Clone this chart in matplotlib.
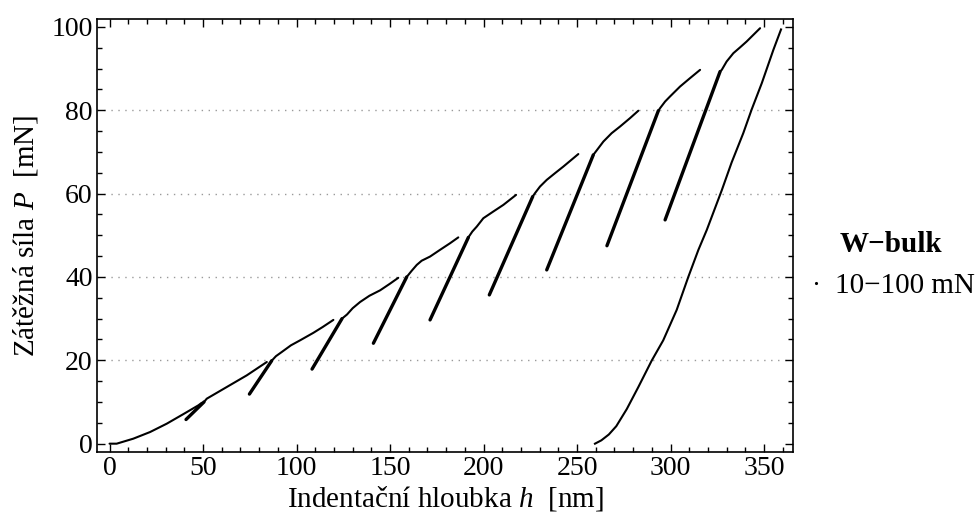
import matplotlib
matplotlib.use("Agg")
import matplotlib.pyplot as plt
from matplotlib.lines import Line2D
from matplotlib.ticker import MultipleLocator

# loading branches (h in nm, P in mN), one list per cycle
load_h = [
    [0, 3.8, 12.7, 21.7, 30.6, 39.5, 47.5, 49.3],
    [50.5, 52.0, 62.7, 73.4, 84.1],
    [86.7, 89.0, 92.1, 97.0, 101.9, 109.0, 114.0, 119.7],
    [124.3, 127.0, 130.0, 134.0, 139.0, 144.7, 150.0, 154.4],
    [158.9, 161.6, 164.3, 166.9, 171.4, 176.7, 182.1, 186.5],
    [191.9, 194.0, 196.4, 199.9, 205.2, 210.6, 217.4],
    [226.3, 227.5, 230.2, 233.8, 238.2, 242.7, 250.7],
    [258.7, 261.4, 264.1, 268.5, 273.0, 278.3, 282.8],
    [293.5, 294.4, 297.1, 299.7, 305.1, 310.4, 315.8],
    [326.5, 327.4, 330.0, 333.6, 337.2, 340.7, 344.3, 347.9],
]
load_P = [
    [0, 0, 1.2, 2.8, 4.8, 7.1, 9.2, 9.8],
    [10.0, 10.8, 13.6, 16.4, 19.6],
    [19.9, 21.0, 22.0, 23.6, 24.8, 26.6, 28.0, 29.7],
    [30.0, 31.0, 32.5, 34.0, 35.5, 36.8, 38.4, 39.8],
    [40.0, 41.5, 42.9, 43.9, 44.9, 46.5, 48.1, 49.5],
    [49.5, 50.9, 52.1, 54.1, 55.7, 57.3, 59.7],
    [59.3, 60.1, 61.7, 63.3, 64.9, 66.5, 69.5],
    [69.3, 70.9, 72.5, 74.5, 76.1, 78.1, 79.9],
    [79.9, 80.5, 82.1, 83.3, 85.7, 87.7, 89.7],
    [89.3, 89.7, 91.7, 93.7, 95.1, 96.5, 98.1, 99.7],
]

# partial unload / reload lines (top -> lowest point)
cyc_top_h = [50.5, 86.7, 124.3, 158.9, 191.9, 226.3, 258.7, 293.5, 326.5]
cyc_top_P = [10.0, 19.9, 30.0, 40.0, 49.5, 59.3, 69.3, 79.9, 89.3]
cyc_low_h = [40.9, 74.8, 108.3, 141.1, 171.4, 203.1, 233.8, 266.0, 297.1]
cyc_low_P = [5.8, 11.9, 17.9, 24.1, 29.7, 35.7, 41.7, 47.5, 53.7]

# final unloading from 100 mN
fin_h = [359.1, 355.0, 348.8, 343.4, 338.9, 332.7, 327.4, 319.4, 314.9,
         309.5, 303.3, 296.1, 289.9, 282.8, 276.6, 271.0, 267.0, 263.0, 259.6]
fin_P = [99.4, 94.5, 86.5, 80.2, 74.5, 67.5, 60.8, 51.3, 46.5,
         40.0, 32.1, 24.8, 19.9, 13.6, 8.3, 4.2, 2.2, 0.8, 0.0]

plt.rcParams["font.family"] = ["Liberation Serif", "DejaVu Serif"]
plt.rcParams["mathtext.fontset"] = "custom"
plt.rcParams["mathtext.rm"] = "Liberation Serif"
plt.rcParams["mathtext.it"] = "Liberation Serif:italic"

fig = plt.figure(figsize=(9.76, 5.17), dpi=100)
ax = fig.add_axes([0.0994, 0.1257, 0.7131, 0.8375])

for hh, pp in zip(load_h, load_P):
    ax.plot(hh, pp, color="black", lw=1.5, solid_capstyle="round",
            solid_joinstyle="round")
for i in range(len(cyc_top_h)):
    ax.plot([cyc_top_h[i], cyc_low_h[i]], [cyc_top_P[i], cyc_low_P[i]],
            color="black", lw=2.4, solid_capstyle="round")
ax.plot(fin_h, fin_P, color="black", lw=1.5, solid_joinstyle="round")

for y in [20, 40, 60, 80]:
    ax.axhline(y, color="#9a9a9a", lw=1.0, ls=(0, (1, 4)), zorder=0)

ax.set_xlim(-6.7, 365.5)
ax.set_ylim(-2.0, 101.9)
ax.xaxis.set_major_locator(MultipleLocator(50))
ax.xaxis.set_minor_locator(MultipleLocator(10))
ax.yaxis.set_major_locator(MultipleLocator(20))
ax.yaxis.set_minor_locator(MultipleLocator(5))
ax.tick_params(which="both", direction="in", top=True, right=True, width=1.0)
ax.tick_params(which="major", length=6, labelsize=20, pad=3)
ax.tick_params(which="minor", length=3.5)
for s in ax.spines.values():
    s.set_linewidth(1.2)

ax.set_xlabel("Indentační hloubka $h$  [nm]", fontsize=21, labelpad=2)
ax.set_ylabel("Zátěžná síla $P$  [mN]", fontsize=21, labelpad=8)

handle = Line2D([], [], ls="none", marker=".", ms=2.5, color="black")
leg = fig.legend([handle], ["10\u2212100 mN"], title="W\u2212bulk",
                 loc="center left", bbox_to_anchor=(0.815, 0.487),
                 frameon=False, fontsize=21, handlelength=0.6,
                 handletextpad=0.35, borderaxespad=0)
leg.get_title().set_fontweight("bold")
leg.get_title().set_fontsize(21)

fig.savefig("out.png", dpi=100)
